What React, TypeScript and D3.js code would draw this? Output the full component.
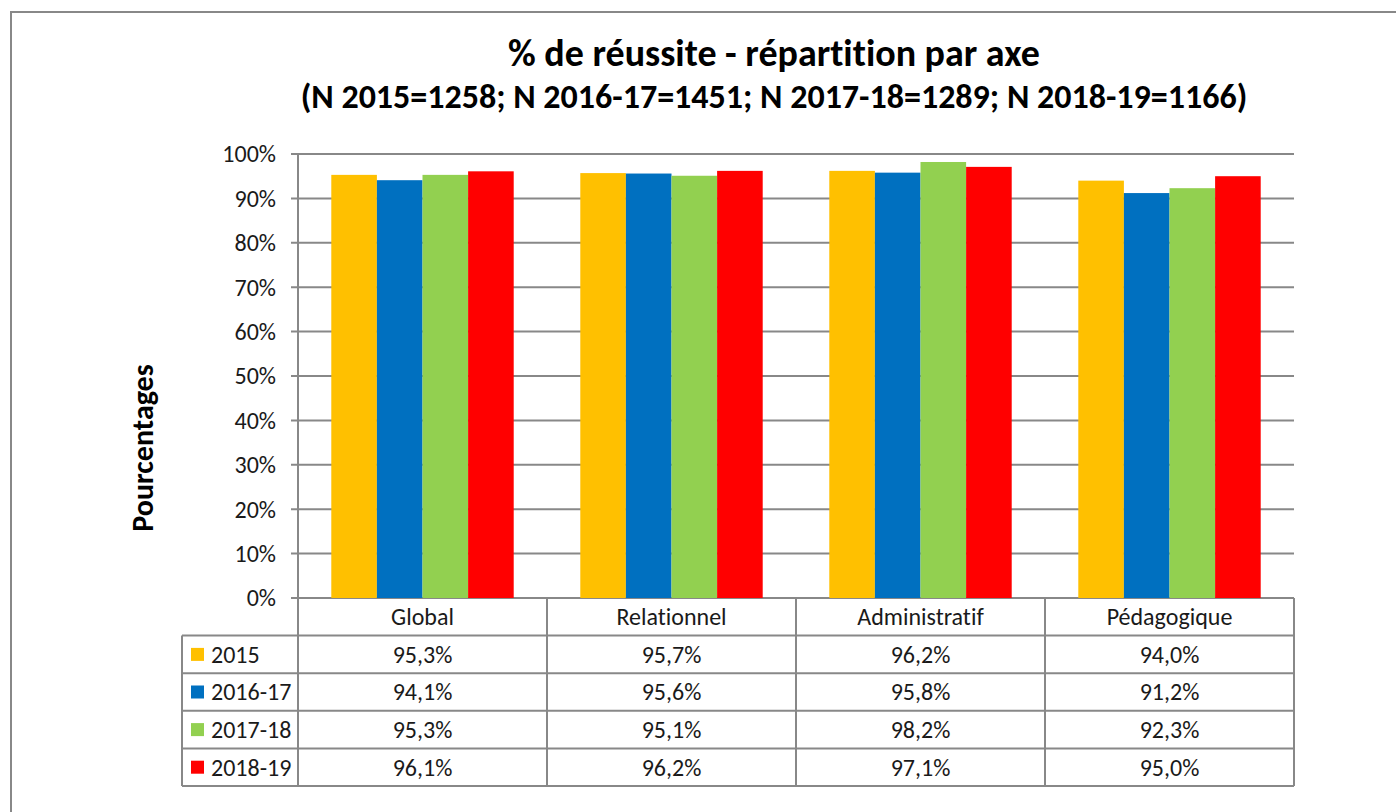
import React from "react";
import * as d3 from "d3";

const categories = ["Global", "Relationnel", "Administratif", "Pédagogique"];
const seriesNames = ["2015", "2016-17", "2017-18", "2018-19"];
const seriesColors = ["#FFC000", "#0070C0", "#92D050", "#FF0000"];
const values2015 = [95.3, 95.7, 96.2, 94.0];
const values2016 = [94.1, 95.6, 95.8, 91.2];
const values2017 = [95.3, 95.1, 98.2, 92.3];
const values2018 = [96.1, 96.2, 97.1, 95.0];
const yTicks = [0, 10, 20, 30, 40, 50, 60, 70, 80, 90, 100];

const allValues = [values2015, values2016, values2017, values2018];
const font = "Carlito, Calibri, 'Open Sans', sans-serif";
const gray = "#888888";

const fmt = (v: number) => v.toFixed(1).replace(".", ",") + "%";

const App = () => {
  const left = 298;
  const right = 1294;
  const top = 154;
  const bottom = 598;
  const tableLeft = 182;

  const x0 = d3.scaleBand().domain(categories).range([left, right]);
  const x1 = d3
    .scaleBand()
    .domain(seriesNames)
    .range([0, x0.bandwidth()])
    .paddingOuter(0.73);
  const y = d3.scaleLinear().domain([0, 100]).range([bottom, top]);
  const rows = d3
    .scaleBand()
    .domain(["header", ...seriesNames])
    .range([bottom, 786]);

  return (
    <svg
      width={1396}
      height={812}
      style={{
        position: "absolute",
        left: 0,
        top: 0,
        background: "#fff",
        fontVariantLigatures: "none",
      }}
      fontFamily={font}
    >
      <rect x={11} y={12} width={1400} height={820} fill="#fff" stroke={gray} strokeWidth={2} />

      {/* titles */}
      <text x={774} y={66} textAnchor="middle" fontSize={38} fontWeight="bold" fill="#000">
        % de réussite - répartition par axe
      </text>
      <text x={774} y={108} textAnchor="middle" fontSize={34} fontWeight="bold" fill="#000">
        (N 2015=1258; N 2016-17=1451; N 2017-18=1289; N 2018-19=1166)
      </text>
      <text
        transform="translate(153,448) rotate(-90)"
        textAnchor="middle"
        fontSize={30}
        fontWeight="bold"
        fill="#000"
      >
        Pourcentages
      </text>

      {/* grid + y ticks */}
      {yTicks.map((t) => (
        <g key={t}>
          <line x1={left - 7} x2={right} y1={y(t)} y2={y(t)} stroke={gray} strokeWidth={2} />
          <text x={276} y={y(t)} dy="0.35em" textAnchor="end" fontSize={24} fill="#1a1a1a">
            {t}%
          </text>
        </g>
      ))}

      {/* bars */}
      {categories.map((c, ci) =>
        seriesNames.map((s, si) => (
          <rect
            key={c + s}
            x={(x0(c) as number) + (x1(s) as number)}
            y={y(allValues[si][ci])}
            width={x1.bandwidth()}
            height={y(0) - y(allValues[si][ci])}
            fill={seriesColors[si]}
          />
        ))
      )}

      {/* data table */}
      <g stroke={gray} strokeWidth={2}>
        <line x1={left} x2={left} y1={top} y2={786} />
        {categories.map((c) => (
          <line
            key={c}
            x1={(x0(c) as number) + x0.bandwidth()}
            x2={(x0(c) as number) + x0.bandwidth()}
            y1={bottom}
            y2={786}
          />
        ))}
        <line x1={tableLeft} x2={tableLeft} y1={rows("2015") as number} y2={786} />
        {seriesNames.map((s) => (
          <line
            key={s}
            x1={tableLeft}
            x2={right}
            y1={rows(s) as number}
            y2={rows(s) as number}
          />
        ))}
        <line x1={tableLeft} x2={right} y1={786} y2={786} />
      </g>

      {categories.map((c) => (
        <text
          key={c}
          x={(x0(c) as number) + x0.bandwidth() / 2}
          y={(rows("header") as number) + rows.bandwidth() / 2}
          dy="0.35em"
          textAnchor="middle"
          fontSize={24}
          fill="#1a1a1a"
        >
          {c}
        </text>
      ))}

      {seriesNames.map((s, si) => {
        const cy = (rows(s) as number) + rows.bandwidth() / 2;
        return (
          <g key={s}>
            <rect x={191} y={cy - 6.5} width={13} height={13} fill={seriesColors[si]} />
            <text x={211} y={cy} dy="0.35em" fontSize={24} fill="#1a1a1a">
              {s}
            </text>
            {categories.map((c, ci) => (
              <text
                key={c}
                x={(x0(c) as number) + x0.bandwidth() / 2}
                y={cy}
                dy="0.35em"
                textAnchor="middle"
                fontSize={24}
                fill="#1a1a1a"
              >
                {fmt(allValues[si][ci])}
              </text>
            ))}
          </g>
        );
      })}
    </svg>
  );
};

export default App;
